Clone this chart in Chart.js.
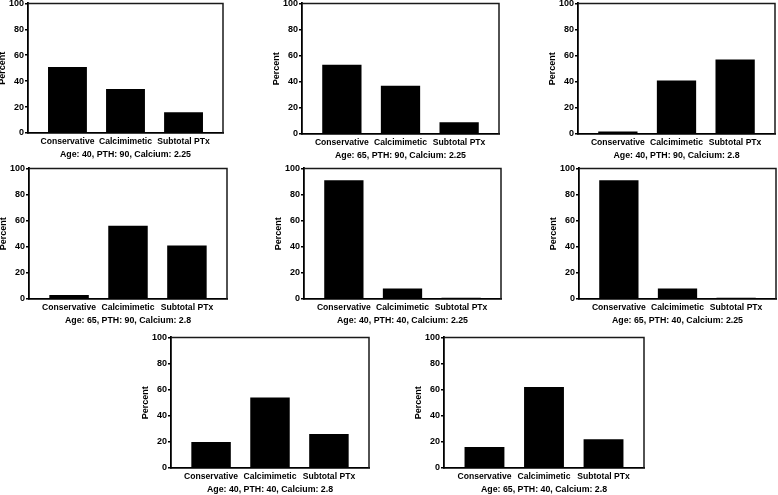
<!DOCTYPE html>
<html>
<head>
<meta charset="utf-8">
<script src="https://cdn.jsdelivr.net/npm/chart.js@4.4.0/dist/chart.umd.min.js"></script>
<style>
html, body { margin: 0; padding: 0; background: #fff; }
body { width: 778px; height: 495px; position: relative; overflow: hidden; }
canvas { position: absolute; }
</style>
</head>
<body>
<script>
// kategoriler ve eksen değerleri
const categories = ['Conservative', 'Calcimimetic', 'Subtotal PTx'];
const yTicks = [0, 20, 40, 60, 80, 100];

// her panelin başlığı
const titles = [
    'Age: 40, PTH: 90, Calcium: 2.25',
    'Age: 65, PTH: 90, Calcium: 2.25',
    'Age: 40, PTH: 90, Calcium: 2.8',
    'Age: 65, PTH: 90, Calcium: 2.8',
    'Age: 40, PTH: 40, Calcium: 2.25',
    'Age: 65, PTH: 40, Calcium: 2.25',
    'Age: 40, PTH: 40, Calcium: 2.8',
    'Age: 65, PTH: 40, Calcium: 2.8'
];

// yüzde değerleri (Conservative, Calcimimetic, Subtotal PTx)
const age40Pth90Ca225 = [51, 34, 16];
const age65Pth90Ca225 = [53, 37, 9];
const age40Pth90Ca28 = [2, 41, 57];
const age65Pth90Ca28 = [3, 56, 41];
const age40Pth40Ca225 = [91, 8, 1];
const age65Pth40Ca225 = [91, 8, 1];
const age40Pth40Ca28 = [20, 54, 26];
const age65Pth40Ca28 = [16, 62, 22];

const panelValues = [
    age40Pth90Ca225, age65Pth90Ca225, age40Pth90Ca28,
    age65Pth90Ca28, age40Pth40Ca225, age65Pth40Ca225,
    age40Pth40Ca28, age65Pth40Ca28
];

// çizim alanlarının sayfadaki yeri: [sol, üst, sağ, alt]
const plotBoxes = [
    [28, 3, 223, 133],
    [302, 3, 499, 134],
    [578, 3, 775, 134],
    [29, 168, 227, 299],
    [304, 168, 501, 299],
    [579, 168, 776, 299],
    [171, 337, 369, 468],
    [444, 337, 644, 468]
];

const Y_WIDTH = 31;
const X_HEIGHT = 27;
const PAD_TOP = 6;
const PAD_RIGHT = 2;
const FONT = "'Liberation Sans', Arial, sans-serif";

// üst ve sağ çerçeve çizgisi
const framePlugin = {
    id: 'frame',
    afterDraw(chart) {
        const a = chart.chartArea;
        const c = chart.ctx;
        c.save();
        c.strokeStyle = '#1a1a1a';
        c.lineWidth = 1.5;
        c.beginPath();
        c.moveTo(a.left, a.top);
        c.lineTo(a.right, a.top);
        c.lineTo(a.right, a.bottom);
        c.stroke();
        c.restore();
    }
};

function makePanel(i) {
    const box = plotBoxes[i];
    const canvas = document.createElement('canvas');
    const w = Y_WIDTH + (box[2] - box[0]) + PAD_RIGHT;
    const h = PAD_TOP + (box[3] - box[1]) + X_HEIGHT;
    canvas.width = w;
    canvas.height = h;
    canvas.style.width = w + 'px';
    canvas.style.height = h + 'px';
    canvas.style.left = (box[0] - Y_WIDTH) + 'px';
    canvas.style.top = (box[1] - PAD_TOP) + 'px';
    document.body.appendChild(canvas);

    new Chart(canvas.getContext('2d'), {
        type: 'bar',
        data: {
            datasets: [{
                data: panelValues[i].map((v, k) => ({ x: k, y: v })),
                backgroundColor: '#000',
                borderWidth: 0,
                categoryPercentage: 1,
                barPercentage: 0.67
            }]
        },
        options: {
            responsive: false,
            animation: false,
            devicePixelRatio: 1,
            layout: { padding: { top: PAD_TOP, right: PAD_RIGHT, left: 0, bottom: 0 } },
            plugins: { legend: { display: false }, tooltip: { enabled: false } },
            scales: {
                x: {
                    type: 'linear',
                    offset: false,
                    min: -0.68,
                    max: 2.68,
                    afterBuildTicks: s => { s.ticks = categories.map((c, k) => ({ value: k })); },
                    afterFit: s => { s.height = X_HEIGHT; },
                    grid: { display: false, drawTicks: false },
                    border: { display: true, color: '#000', width: 1.8 },
                    ticks: {
                        autoSkip: false,
                        maxRotation: 0,
                        padding: 3,
                        color: '#000',
                        font: { family: FONT, size: 8.6, weight: 'bold' },
                        callback: v => categories[v]
                    },
                    title: {
                        display: true,
                        text: titles[i],
                        color: '#000',
                        padding: { top: 0, bottom: 0 },
                        font: { family: FONT, size: 8.8, weight: 'bold' }
                    }
                },
                y: {
                    min: 0,
                    max: 100,
                    afterBuildTicks: s => { s.ticks = yTicks.map(v => ({ value: v })); },
                    afterFit: s => { s.width = Y_WIDTH; },
                    grid: { drawOnChartArea: false, drawTicks: true, tickLength: 3, color: '#000', lineWidth: 1.5 },
                    border: { display: true, color: '#000', width: 1.8 },
                    ticks: {
                        padding: 1,
                        color: '#000',
                        font: { family: FONT, size: 9, weight: 'bold' }
                    },
                    title: {
                        display: true,
                        text: 'Percent',
                        color: '#000',
                        padding: 0,
                        font: { family: FONT, size: 9, weight: 'bold' }
                    }
                }
            }
        },
        plugins: [framePlugin]
    });
}

for (let i = 0; i < plotBoxes.length; i++) {
    makePanel(i);
}
</script>
</body>
</html>
